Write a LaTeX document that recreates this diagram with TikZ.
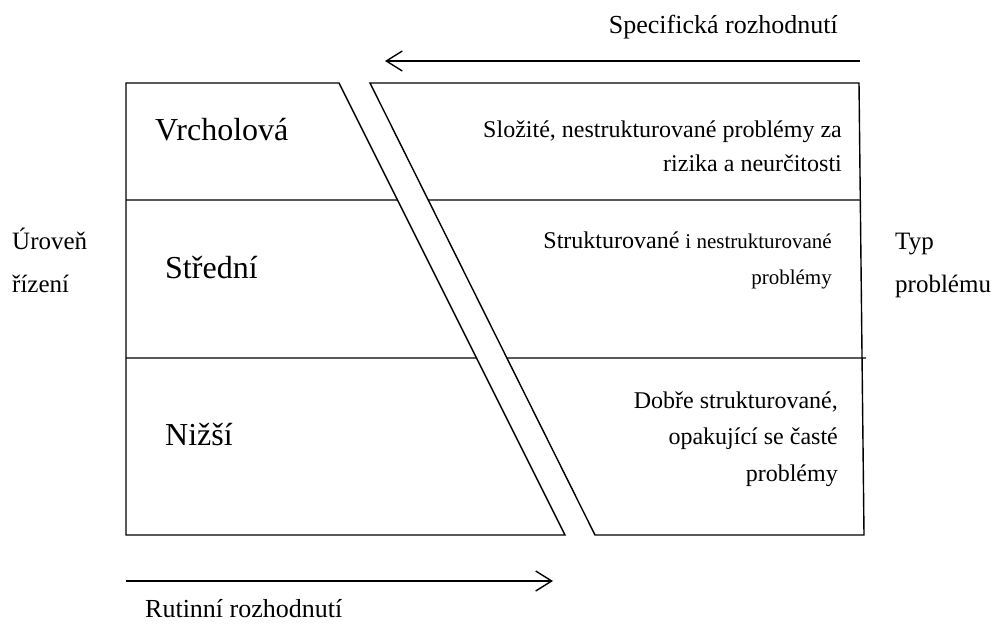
\documentclass[tikz,border=0pt]{standalone}
\usepackage{fontspec}
\setmainfont{Liberation Serif}
\usetikzlibrary{calc,arrows.meta}

\tikzset{
  edge/.style={line width=1.4pt},
  flow/.style={line width=1.4pt,-{Straight Barb[length=16pt,width=20pt,line width=1.4pt]}},
  level/.style={inner sep=0pt,font=\fontsize{32}{32}\selectfont},
  problem/.style={inner sep=0pt,font=\fontsize{24}{24}\selectfont},
  side/.style={inner sep=0pt,anchor=base west,align=left,font=\fontsize{25}{43}\selectfont},
}

\begin{document}
\begin{tikzpicture}[x=1pt,y=-1pt]
  \useasboundingbox (0,0) rectangle (998,626);
  % left block (management levels)
  \coordinate (lt) at (126,83);
  \coordinate (ltr) at (339,83);
  \coordinate (lbr) at (565,535);
  \coordinate (lb) at (126,535);
  % right block (problem types)
  \coordinate (rtl) at (370,83);
  \coordinate (rt) at (859,83);
  \coordinate (rb) at (864,535);
  \coordinate (rbl) at (595,535);
  \draw[edge] (lt)--(ltr)--(lbr)--(lb)--cycle;
  \draw[edge] (rtl)--(rt)--(rb)--(rbl)--cycle;
  % dividers
  \draw[edge] (126,200) -- ($(ltr)!0.2588!(lbr)$);
  \draw[edge] ($(rtl)!0.2588!(rbl)$) -- (860.3,200);
  \draw[edge] (126,358) -- ($(ltr)!0.6084!(lbr)$);
  \draw[edge] ($(rtl)!0.6084!(rbl)$) -- (866,358);
  % arrows
  \coordinate (sa) at (860,61);
  \coordinate (sb) at (385,61);
  \coordinate (ra) at (126,581);
  \coordinate (rr) at (553,581);
  \draw[flow] (sa) -- (sb);
  \draw[flow] (ra) -- (rr);
  \node[problem,anchor=base east,font=\fontsize{26}{26}\selectfont] (spec) at (838,34) {Specifická rozhodnutí};
  \node[problem,anchor=base west,font=\fontsize{26}{26}\selectfont] (rut) at (145,617) {Rutinní rozhodnutí};
  % levels
  \foreach \n/\lab/\x/\y in {vrch/Vrcholová/155/140,stred/Střední/165/278,niz/Nižší/165/445}{
    \node[level,anchor=base west] (\n) at (\x,\y) {\lab};
  }
  % problem types
  \node[problem,anchor=base east] (p1a) at (842,137) {Složité, nestrukturované problémy za};
  \node[problem,anchor=base east] (p1b) at (842,171) {rizika a neurčitosti};
  \node[problem,anchor=base east] (p2a) at (832,248) {Strukturované {\fontsize{21}{21}\selectfont i nestrukturované}};
  \node[problem,anchor=base east,font=\fontsize{21}{21}\selectfont] (p2b) at (832,284) {problémy};
  \node[problem,anchor=base east] (p3a) at (838,408) {Dobře strukturované,};
  \node[problem,anchor=base east] (p3b) at (838,444) {opakující se časté};
  \node[problem,anchor=base east] (p3c) at (838,481) {problémy};
  % side labels
  \node[side] (uroven) at (12,292) {Úroveň\\řízení};
  \node[side] (typ) at (895,292) {Typ\\problému};
\end{tikzpicture}
\end{document}
